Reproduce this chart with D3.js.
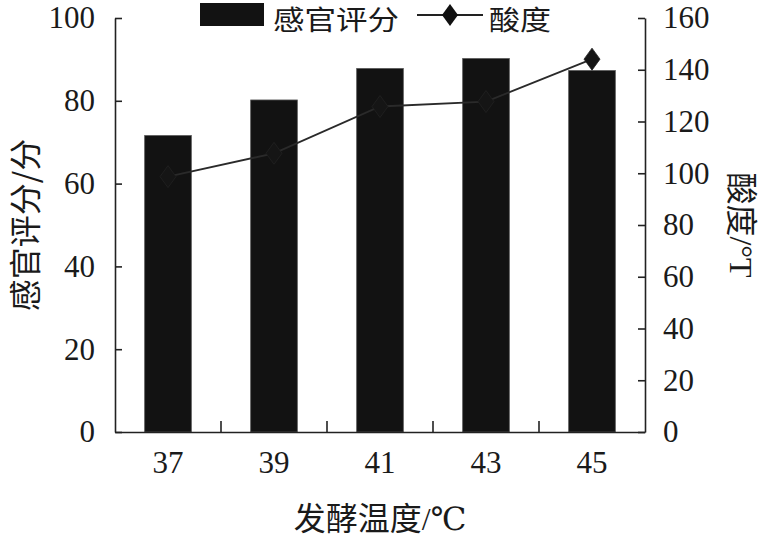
<!DOCTYPE html>
<html>
<head>
<meta charset="utf-8">
<script src="https://cdn.jsdelivr.net/npm/d3@7"></script>
<style>
  body { margin: 0; background: #fff; }
  svg text { fill: #1a1a1a; }
</style>
</head>
<body>
<div id="vis"></div>
<script>
const categories = ["37", "39", "41", "43", "45"];
const sensoryScores = [71.6, 80.2, 87.8, 90.2, 87.3];
const acidity = [98.7, 107.7, 125.8, 127.7, 144.1];
const leftTicks = [0, 20, 40, 60, 80, 100];
const rightTicks = [0, 20, 40, 60, 80, 100, 120, 140, 160];

const FRAME_WIDTH = 767;
const FRAME_HEIGHT = 542;
const PLOT = { left: 115, right: 645, top: 18, bottom: 432 };
const SERIF = "'Liberation Serif', 'Times New Roman', 'DejaVu Serif', 'Noto Sans CJK SC', serif";
const CJK = "'Noto Sans CJK SC', 'Liberation Serif', sans-serif";

const FRAME = d3.select("#vis")
  .append("svg")
  .attr("width", FRAME_WIDTH)
  .attr("height", FRAME_HEIGHT);

const X_SCALE = d3.scaleBand()
  .domain(categories)
  .range([PLOT.left, PLOT.right])
  .paddingInner(0.56)
  .paddingOuter(0.28);

const Y_LEFT = d3.scaleLinear().domain([0, 100]).range([PLOT.bottom, PLOT.top]);
const Y_RIGHT = d3.scaleLinear().domain([0, 160]).range([PLOT.bottom, PLOT.top]);

// bars
FRAME.selectAll(".bar")
  .data(categories)
  .enter()
  .append("rect")
  .attr("class", "bar")
  .attr("x", d => X_SCALE(d))
  .attr("y", (d, i) => Y_LEFT(sensoryScores[i]))
  .attr("width", X_SCALE.bandwidth())
  .attr("height", (d, i) => PLOT.bottom - Y_LEFT(sensoryScores[i]))
  .attr("fill", "#121212")
  .attr("stroke", "#555")
  .attr("stroke-width", 0.8);

// axes
function styleAxis(g) {
  g.attr("font-family", null);
  g.selectAll("path, line").attr("stroke", "#222").attr("stroke-width", 1.6);
  g.selectAll("text").attr("fill", "#1a1a1a")
    .style("font-family", SERIF).style("font-size", "31px");
}

FRAME.append("g")
  .attr("transform", `translate(${PLOT.left},0)`)
  .call(d3.axisLeft(Y_LEFT).tickValues(leftTicks).tickSizeInner(-7).tickSizeOuter(0).tickPadding(20))
  .call(styleAxis);

FRAME.append("g")
  .attr("transform", `translate(${PLOT.right},0)`)
  .call(d3.axisRight(Y_RIGHT).tickValues(rightTicks).tickSizeInner(-7).tickSizeOuter(0).tickPadding(18))
  .call(styleAxis);

const xAxis = FRAME.append("g")
  .attr("transform", `translate(0,${PLOT.bottom})`)
  .call(d3.axisBottom(X_SCALE).tickSize(0).tickPadding(18))
  .call(styleAxis);
xAxis.selectAll("text").attr("dy", "0.75em");

// ticks between categories
const step = X_SCALE.step();
FRAME.selectAll(".xsep")
  .data(categories.slice(1))
  .enter()
  .append("line")
  .attr("x1", d => X_SCALE(d) - step * X_SCALE.paddingInner() / 2)
  .attr("x2", d => X_SCALE(d) - step * X_SCALE.paddingInner() / 2)
  .attr("y1", PLOT.bottom)
  .attr("y2", PLOT.bottom - 11)
  .attr("stroke", "#222")
  .attr("stroke-width", 1.6);

// acidity line
const cx = d => X_SCALE(d) + X_SCALE.bandwidth() / 2;
const line = d3.line()
  .x((d, i) => cx(categories[i]))
  .y(d => Y_RIGHT(d));

FRAME.append("path")
  .datum(acidity)
  .attr("d", line)
  .attr("fill", "none")
  .attr("stroke", "#2a2a2a")
  .attr("stroke-width", 1.8);

const diamond = "M0,-11L8,0L0,11L-8,0Z";
FRAME.selectAll(".pt")
  .data(acidity)
  .enter()
  .append("path")
  .attr("d", diamond)
  .attr("transform", (d, i) => `translate(${cx(categories[i])},${Y_RIGHT(d)})`)
  .attr("fill", "#151515")
  .attr("stroke", "#222")
  .attr("stroke-width", 0.8);

// axis titles: CJK part + serif latin part
function title(sel, cjk, latin) {
  sel.append("tspan").style("font-family", CJK).text(cjk);
  sel.append("tspan").style("font-family", SERIF).text(latin);
}

FRAME.append("text")
  .attr("x", (PLOT.left + PLOT.right) / 2)
  .attr("y", 530)
  .attr("text-anchor", "middle")
  .style("font-size", "32px")
  .call(title, "发酵温度", "/℃");

FRAME.append("text")
  .attr("transform", `translate(37,${(PLOT.top + PLOT.bottom) / 2}) rotate(-90)`)
  .attr("text-anchor", "middle")
  .style("font-size", "32px")
  .call(title, "感官评分/分", "");

FRAME.append("text")
  .attr("transform", `translate(730,${(PLOT.top + PLOT.bottom) / 2}) rotate(90)`)
  .attr("text-anchor", "middle")
  .style("font-size", "32px")
  .call(title, "酸度", "/°T");

// legend
const legend = FRAME.append("g");
legend.append("rect")
  .attr("x", 200).attr("y", 3).attr("width", 64).attr("height", 23)
  .attr("fill", "#121212");
legend.append("text")
  .attr("x", 273).attr("y", 30)
  .style("font-family", CJK).style("font-size", "27px")
  .attr("textLength", 126)
  .attr("lengthAdjust", "spacingAndGlyphs")
  .text("感官评分");
legend.append("line")
  .attr("x1", 417).attr("x2", 483).attr("y1", 15).attr("y2", 15)
  .attr("stroke", "#222").attr("stroke-width", 1.8);
legend.append("path")
  .attr("d", diamond)
  .attr("transform", "translate(450,15)")
  .attr("fill", "#111");
legend.append("text")
  .attr("x", 489).attr("y", 30)
  .style("font-family", CJK).style("font-size", "27px")
  .attr("textLength", 62)
  .attr("lengthAdjust", "spacingAndGlyphs")
  .text("酸度");
</script>
</body>
</html>
